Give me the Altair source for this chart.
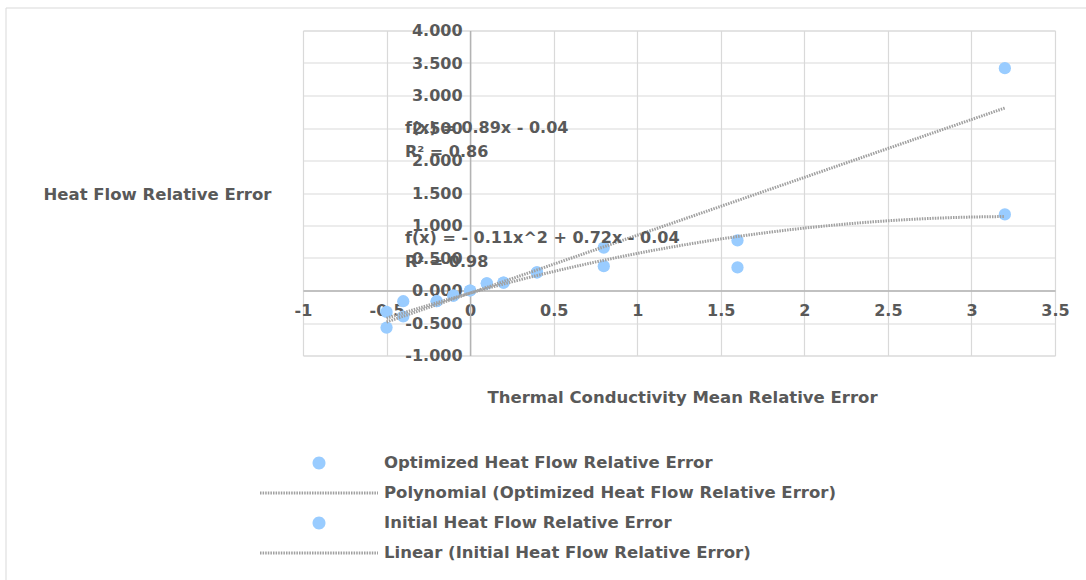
import altair as alt
import numpy as np
import pandas as pd

# ---- data ----
x_vals = [-0.5, -0.4, -0.2, -0.1, 0.0, 0.1, 0.2, 0.4, 0.8, 1.6, 3.2]
optimized_err = [-0.33, -0.165, -0.165, -0.08, 0.0, 0.11, 0.12, 0.28, 0.375, 0.77, 1.17]
initial_err = [-0.57, -0.40, -0.165, -0.08, 0.0, 0.11, 0.12, 0.28, 0.66, 0.355, 3.42]

# trendline coefficients as printed on the chart
poly_coef = [-0.11, 0.72, -0.04]
linear_coef = [0.89, -0.04]

series_names = [
    "Optimized Heat Flow Relative Error",
    "Polynomial (Optimized Heat Flow Relative Error)",
    "Initial Heat Flow Relative Error",
    "Linear (Initial Heat Flow Relative Error)",
]

eq_texts = ["f(x) = 0.89x - 0.04", "R² = 0.86", "f(x) =  - 0.11x^2 + 0.72x - 0.04", "R² = 0.98"]
eq_x = [-0.39, -0.39, -0.39, -0.39]
eq_y = [2.50, 2.13, 0.81, 0.44]

x_ticks = [-1, -0.5, 0, 0.5, 1, 1.5, 2, 2.5, 3, 3.5]
y_ticks = [-1, -0.5, 0, 0.5, 1, 1.5, 2, 2.5, 3, 3.5, 4]

x_title = "Thermal Conductivity Mean Relative Error"
y_title = "Heat Flow Relative Error"

# ---- tables ----
points_df = pd.DataFrame({
    "x": x_vals + x_vals,
    "y": optimized_err + initial_err,
    "series": [series_names[0]] * len(x_vals) + [series_names[2]] * len(x_vals),
})

tx = np.linspace(min(x_vals), max(x_vals), 80)
trend_df = pd.DataFrame({
    "x": np.concatenate([tx, tx]),
    "y": np.concatenate([np.polyval(poly_coef, tx), np.polyval(linear_coef, tx)]),
    "trend": [series_names[1]] * len(tx) + [series_names[3]] * len(tx),
})

eq_df = pd.DataFrame({"x": eq_x, "y": eq_y, "label": eq_texts})
legend_df = pd.DataFrame({"series": series_names})

FONT = "DejaVu Sans"
TXT = "#595959"
BLUE = "#99ccff"
TREND = "#a0a0a0"
GRID = "#d9d9d9"
DASH = [1.5, 1.1]

xs = alt.Scale(domain=[-1, 3.5], nice=False, zero=False)
ys = alt.Scale(domain=[-1, 4], nice=False, zero=False)

x_axis = alt.Axis(
    values=x_ticks, tickCount=30,
    labelExpr="replace(format(datum.value, '~g'), '\u2212', '-')",
    title=x_title, offset=-65, ticks=False, tickSize=0,
    grid=True, gridColor=GRID, gridWidth=1.2,
    domainColor="#b3b3b3", domainWidth=1.5,
    labelFont=FONT, labelFontSize=16, labelFontWeight="bold", labelColor=TXT,
    labelFlush=False, labelOverlap=False, labelPadding=20, labelBaseline="middle",
    titleFont=FONT, titleFontSize=16.5, titleFontWeight="bold", titleColor=TXT,
    titleX=379, titleY=106.5, titleAlign="center", titleBaseline="middle",
)
y_axis = alt.Axis(
    values=y_ticks, tickCount=30,
    labelExpr="replace(format(datum.value, '.3f'), '\u2212', '-')",
    title=y_title, offset=-167.1, ticks=False, tickSize=0,
    grid=True, gridColor=GRID, gridWidth=1.2,
    domainColor="#b3b3b3", domainWidth=1.5,
    labelFont=FONT, labelFontSize=16, labelFontWeight="bold", labelColor=TXT,
    labelFlush=False, labelOverlap=False, labelPadding=8,
    titleFont=FONT, titleFontSize=16.5, titleFontWeight="bold", titleColor=TXT,
    titleAngle=0, titleX=-427.1, titleY=163.5, titleAlign="left", titleBaseline="middle",
)

frame = alt.Chart(pd.DataFrame({"k": [0]})).mark_rect(
    fill="transparent", stroke=GRID, strokeWidth=1
).encode(
    x=alt.value(-297), x2=alt.value(800), y=alt.value(-22.5), y2=alt.value(570)
)

points = alt.Chart(points_df).mark_circle(size=150, color=BLUE, opacity=1).encode(
    x=alt.X("x:Q", scale=xs, axis=x_axis),
    y=alt.Y("y:Q", scale=ys, axis=y_axis),
)

trends = alt.Chart(trend_df).mark_line(
    color=TREND, strokeWidth=3, strokeDash=DASH
).encode(
    x=alt.X("x:Q", scale=xs),
    y=alt.Y("y:Q", scale=ys),
    detail="trend:N",
)

eqs = alt.Chart(eq_df).mark_text(
    align="left", baseline="middle", font=FONT, fontSize=16, fontWeight="bold", color=TXT
).encode(
    x=alt.X("x:Q", scale=xs),
    y=alt.Y("y:Q", scale=ys),
    text="label:N",
)

circle_path = "M-0.11,0A0.11,0.11,0,1,1,0.11,0A0.11,0.11,0,1,1,-0.11,0Z"
line_path = "M-1,0L1,0"

is_line = "indexof('' + datum.value, '(') >= 0"

legend_layer = alt.Chart(legend_df).transform_filter("false").mark_point(
    filled=True, opacity=1,
    fill={"expr": is_line + " ? 'transparent' : '" + BLUE + "'"},
    stroke={"expr": is_line + " ? '" + TREND + "' : 'transparent'"},
    strokeWidth=3, strokeDash=DASH,
).encode(
    shape=alt.Shape(
        "series:N",
        scale=alt.Scale(domain=series_names, range=[circle_path, line_path, circle_path, line_path]),
        legend=alt.Legend(
            title=None, orient="none", direction="vertical",
            legendX=-44.5, legendY=417.5, padding=0,
            clipHeight=30, rowPadding=0,
            symbolSize=13924, symbolStrokeWidth=3, symbolDash=DASH,
            symbolOpacity=1,
            labelFont=FONT, labelFontSize=16.5, labelFontWeight="bold", labelColor=TXT,
            labelOffset=4.5, labelLimit=1000,
        ),
    )
)

chart = alt.layer(frame, points, trends, eqs, legend_layer).properties(
    width=752, height=325,
    autosize=alt.AutoSizeParams(type="none"),
    padding={"left": 303, "top": 30.5, "right": 31, "bottom": 224.5},
    background="white",
).configure_view(stroke=GRID)

chart.save("out.html", embed_options={"renderer": "svg", "actions": False})
